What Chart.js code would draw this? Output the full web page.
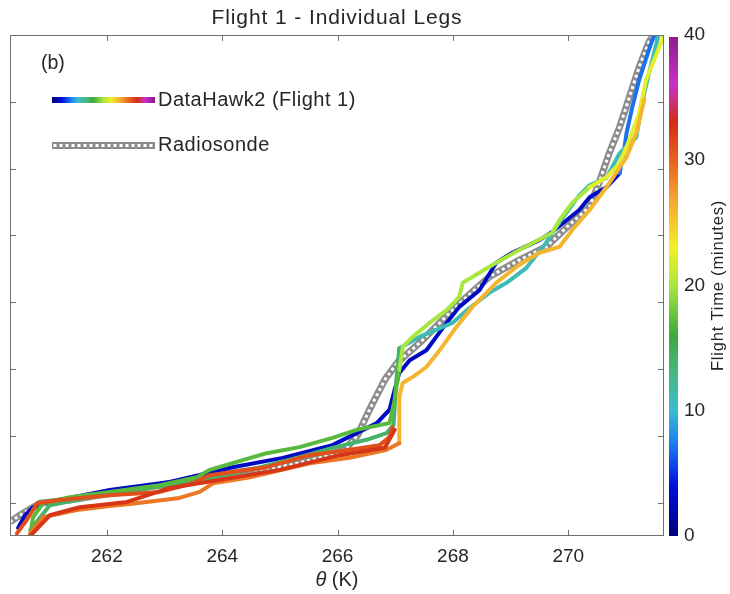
<!DOCTYPE html>
<html>
<head>
<meta charset="utf-8">
<script src="https://cdn.jsdelivr.net/npm/chart.js@4/dist/chart.umd.min.js"></script>
<style>
html,body{margin:0;padding:0;background:#fff;}
canvas{display:block;}
</style>
</head>
<body>
<canvas id="c" width="730" height="594"></canvas>
<script>
// ---------- tick labels ----------
const xTicks = [262, 264, 266, 268, 270];
const yTicks = [50, 150, 250, 350, 450, 550, 650];
const cbTicks = [0, 10, 20, 30, 40];

// ---------- radiosonde profile ----------
const radioTheta = [260.32,260.49,260.84,261.36,262.22,263.26,264.30,265.17,265.69,266.12,266.35,266.47,266.61,266.82,267.04,267.47,267.85,268.24,268.63,269.15,269.62,270.02,270.37,270.54,270.71,270.89,271.06,271.23,271.40,271.51];
const radioAlt   = [21,31,49,54,66,81,96,106,117,129,151,174,199,234,260,293,326,358,388,413,433,466,493,530,573,612,657,702,740,752];

// ---------- DataHawk2 legs (theta, altitude, flight time in minutes) ----------
const leg1Theta = [260.46,260.58,260.72,260.89,262.05,263.09,264.18,265.05,265.91,266.33,266.68,266.90,266.99,267.07,267.25,267.54,267.89,268.11,268.46,268.75,269.03,269.50,269.72,270.19,270.37,270.66,270.89];
const leg1Alt   = [12,31,43,49,69,81,103,117,136,154,169,189,219,244,263,278,319,343,368,409,424,443,455,488,507,522,543];
const leg2Theta = [270.89,270.97,271.01,271.11,271.23,271.40,271.51];
const leg2Alt   = [543,578,603,642,683,728,755];
const leg3Theta = [271.58,271.40,271.28,271.18,270.89,270.66,270.37,270.19,269.85,269.59,269.27,268.93,268.63,268.24,267.99,267.42,267.07];
const leg3Alt   = [755,693,648,597,573,536,525,510,470,436,401,379,364,338,319,298,281];
const leg4Theta = [267.07,267.02,266.97,266.85,266.50,265.91,265.34,264.48,263.26,262.05,261.01,260.67];
const leg4Alt   = [281,234,166,154,144,132,118,99,78,64,46,9];
const leg5Theta = [260.67,260.72,260.89,261.36,262.05,262.92,263.56,263.78,264.77,265.34,265.91,266.33,266.90,266.99,267.02,267.07];
const leg5Alt   = [1,28,49,58,66,76,88,99,124,133,147,159,169,204,223,249];
const leg6Theta = [267.07,267.13,267.30,267.59,267.89,268.11,268.17,268.46,268.75,269.15,269.72,269.85,270.07,270.37];
const leg6Alt   = [249,283,298,319,338,358,379,394,409,428,454,473,499,522];
const leg7Theta = [270.37,270.66,270.89,271.06,271.23,271.35,271.58,271.68];
const leg7Alt   = [522,537,558,593,633,683,732,755];
const leg8Theta = [271.32,271.18,271.01,270.66,270.37,270.07,269.85,269.50,269.15,268.75,268.34,268.06,267.77,267.54,267.30,267.13,267.07,267.07];
const leg8Alt   = [654,603,567,522,488,458,433,424,406,379,343,313,278,253,238,229,208,139];
const leg9Theta = [267.07,266.85,266.21,265.52,264.48,263.84,263.61,263.26,262.40,262.05,261.48,260.89,260.67];
const leg9Alt   = [139,129,117,109,88,79,66,57,48,45,39,28,4];
const leg10Theta = [260.44,260.61,260.79,261.19,262.05,262.92,263.49,263.78,264.77,265.52,266.21,266.73,266.90,266.95];
const leg10Alt   = [4,24,49,54,61,66,79,91,103,121,129,136,148,163];
const leg11Theta = [266.99,266.82,266.04,265.00,263.96,263.09,262.35,261.53,261.01,260.67];
const leg11Alt   = [159,132,121,99,84,72,51,43,31,0];
const legTimes = [3, 7, 11, 14, 17, 20, 22.5, 26, 29, 31, 32.5];

// ---------- colour map (flight time 0..40 min) ----------
const cmapPos = [0, 4, 7.5, 10, 13, 16, 20, 23, 27, 30, 33, 36, 40];
const cmapCol = ['#00007a','#0010dc','#1e80f0','#38bcd0','#48b880','#3caa3c','#a8e640','#f2f028','#f4a232','#e8621e','#d22d14','#c832c8','#8a1a8a'];

function hex2rgb(h){return [parseInt(h.substr(1,2),16),parseInt(h.substr(3,2),16),parseInt(h.substr(5,2),16)];}
function cmap(t){
  for(let i=0;i<cmapPos.length-1;i++){
    if(t<=cmapPos[i+1]){
      const f=(t-cmapPos[i])/(cmapPos[i+1]-cmapPos[i]);
      const a=hex2rgb(cmapCol[i]), b=hex2rgb(cmapCol[i+1]);
      return 'rgb('+a.map((v,k)=>Math.round(v+(b[k]-v)*f)).join(',')+')';
    }
  }
  return cmapCol[cmapCol.length-1];
}

const FONT = '"Liberation Sans", Arial, Helvetica, sans-serif';
const TXT = '#262626';
const AXC = '#707070';

function pts(th, al){return th.map((v,i)=>({x:v,y:al[i]}));}

const legs = [
  [leg1Theta,leg1Alt],[leg2Theta,leg2Alt],[leg3Theta,leg3Alt],[leg4Theta,leg4Alt],
  [leg5Theta,leg5Alt],[leg6Theta,leg6Alt],[leg7Theta,leg7Alt],[leg8Theta,leg8Alt],
  [leg9Theta,leg9Alt],[leg10Theta,leg10Alt],[leg11Theta,leg11Alt]
];

// higher "order" is drawn first (underneath)
const datasets = [
  {data: pts(radioTheta, radioAlt), borderColor:'#8c8c8c', borderWidth:7, showLine:true, pointRadius:0, borderJoinStyle:'round', order:100},
  {data: pts(radioTheta, radioAlt), borderColor:'#ffffff', borderWidth:3, borderDash:[3,3], showLine:true, pointRadius:0, order:99}
];
legs.forEach((l,i)=>{
  datasets.push({data: pts(l[0], l[1]), borderColor: cmap(legTimes[i]), borderWidth:4, showLine:true, pointRadius:0, borderJoinStyle:'round', borderCapStyle:'round', order:50-i});
});

function spaced(ctx, px){ if ('letterSpacing' in ctx) ctx.letterSpacing = px + 'px'; }

const deco = {
  id:'deco',
  afterDraw(chart){
    const ctx = chart.ctx, a = chart.chartArea;
    const sx = chart.scales.x, sy = chart.scales.y, cb = chart.scales.cb;
    ctx.save();
    // box
    ctx.strokeStyle = AXC; ctx.lineWidth = 1;
    ctx.strokeRect(a.left+0.5, a.top+0.5, a.right-a.left-1, a.bottom-a.top-1);
    // inward ticks
    ctx.beginPath();
    xTicks.forEach(v=>{
      const px = Math.round(sx.getPixelForValue(v))+0.5;
      ctx.moveTo(px, a.bottom); ctx.lineTo(px, a.bottom-6);
      ctx.moveTo(px, a.top); ctx.lineTo(px, a.top+6);
    });
    yTicks.forEach(v=>{
      const py = Math.round(sy.getPixelForValue(v))+0.5;
      ctx.moveTo(a.left, py); ctx.lineTo(a.left+6, py);
      ctx.moveTo(a.right, py); ctx.lineTo(a.right-6, py);
    });
    ctx.stroke();
    // colorbar
    const yTop = cb.getPixelForValue(40), yBot = cb.getPixelForValue(0);
    const g = ctx.createLinearGradient(0, yBot, 0, yTop);
    cmapPos.forEach((p,i)=>g.addColorStop(p/40, cmapCol[i]));
    ctx.fillStyle = g;
    ctx.fillRect(669, yTop+2, 9, yBot-yTop-2);
    // colorbar label
    ctx.fillStyle = TXT;
    ctx.font = '16.5px '+FONT;
    spaced(ctx, 0.8);
    ctx.textAlign = 'center'; ctx.textBaseline = 'middle';
    ctx.save();
    ctx.translate(718, (yTop+yBot)/2);
    ctx.rotate(-Math.PI/2);
    ctx.fillText('Flight Time (minutes)', 0, 0);
    ctx.restore();
    // title
    ctx.font = '21px '+FONT;
    spaced(ctx, 0.9);
    ctx.fillText('Flight 1 - Individual Legs', (a.left+a.right)/2, 18);
    // x title
    spaced(ctx, 0);
    ctx.textAlign = 'left';
    const th = 'θ', rest = ' (K)';
    ctx.font = 'italic 20px '+FONT; const w1 = ctx.measureText(th).width;
    ctx.font = '20px '+FONT; const w2 = ctx.measureText(rest).width;
    const x0 = (a.left+a.right)/2 - (w1+w2)/2;
    ctx.font = 'italic 20px '+FONT; ctx.fillText(th, x0, 580);
    ctx.font = '20px '+FONT; ctx.fillText(rest, x0+w1, 580);
    // panel label
    ctx.font = '19.5px '+FONT;
    ctx.fillText('(b)', 41, 64);
    // legend: DataHawk2
    const lg = ctx.createLinearGradient(52, 0, 155, 0);
    cmapPos.forEach((p,i)=>lg.addColorStop(p/40, cmapCol[i]));
    ctx.fillStyle = lg;
    ctx.fillRect(52, 97, 103, 6);
    ctx.fillStyle = TXT;
    ctx.font = '20px '+FONT;
    spaced(ctx, 0.5);
    ctx.fillText('DataHawk2 (Flight 1)', 158, 100);
    // legend: radiosonde
    ctx.fillStyle = '#8c8c8c';
    ctx.fillRect(52, 142, 103, 7);
    ctx.strokeStyle = '#ffffff'; ctx.lineWidth = 3; ctx.setLineDash([3,3]);
    ctx.beginPath(); ctx.moveTo(53.5, 145.5); ctx.lineTo(154, 145.5); ctx.stroke();
    ctx.setLineDash([]);
    ctx.fillStyle = TXT;
    ctx.fillText('Radiosonde', 158, 145);
    spaced(ctx, 0);
    ctx.restore();
  }
};

new Chart(document.getElementById('c'), {
  type: 'scatter',
  data: {datasets},
  plugins: [deco],
  options: {
    responsive:false, animation:false,
    layout:{padding:{top:35,left:0,right:0,bottom:0}},
    plugins:{legend:{display:false}, title:{display:false}, tooltip:{enabled:false}},
    scales:{
      x:{type:'linear', min:260.32, max:271.66,
         afterBuildTicks:s=>{s.ticks = xTicks.map(v=>({value:v}));},
         afterFit:s=>{s.height=58;},
         grid:{display:false, drawTicks:false}, border:{display:false},
         ticks:{padding:9, color:TXT, font:{size:19, family:FONT}, maxRotation:0, autoSkip:false}},
      y:{type:'linear', min:0, max:750,
         afterBuildTicks:s=>{s.ticks = yTicks.map(v=>({value:v}));},
         afterFit:s=>{s.width=10;},
         grid:{display:false, drawTicks:false}, border:{display:false},
         ticks:{display:false}},
      cb:{type:'linear', position:'right', min:0, max:40,
         afterBuildTicks:s=>{s.ticks = cbTicks.map(v=>({value:v}));},
         afterFit:s=>{s.width=66;},
         grid:{display:false, drawTicks:false}, border:{display:false},
         ticks:{padding:20, color:TXT, font:{size:19, family:FONT}}}
    }
  }
});
</script>
</body>
</html>
